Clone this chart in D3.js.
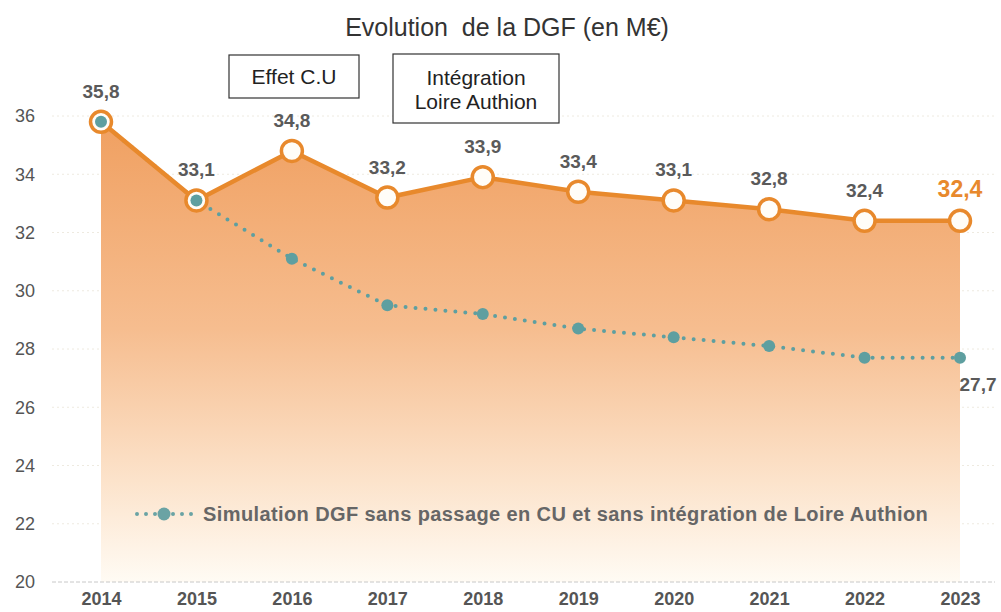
<!DOCTYPE html>
<html>
<head>
<meta charset="utf-8">
<script src="https://cdn.jsdelivr.net/npm/d3@7"></script>
<style>
  body { margin: 0; background: #fff; }
  svg { display: block; font-family: "Liberation Sans", Arial, sans-serif; }
</style>
</head>
<body>
<svg id="chart" width="1001" height="612"></svg>
<script>
// chart values
const years = [2014, 2015, 2016, 2017, 2018, 2019, 2020, 2021, 2022, 2023];
const dgf = [35.8, 33.1, 34.8, 33.2, 33.9, 33.4, 33.1, 32.8, 32.4, 32.4];
const simulation = [35.8, 33.1, 31.1, 29.5, 29.2, 28.7, 28.4, 28.1, 27.7, 27.7];
const yTicks = [20, 22, 24, 26, 28, 30, 32, 34, 36];
const legendLabel = "Simulation DGF sans passage en CU et sans intégration de Loire Authion";

const svg = d3.select("#chart");
const fmt = v => String(v).replace(".", ",");

const x = d3.scalePoint().domain(years).range([101, 960]);
const y = d3.scaleLinear().domain([20, 36]).range([582, 116]);

// gradient for area
const defs = svg.append("defs");
const grad = defs.append("linearGradient")
    .attr("id", "areaGrad")
    .attr("x1", 0).attr("y1", 0).attr("x2", 0).attr("y2", 1);
grad.append("stop").attr("offset", "0%").attr("stop-color", "#f0a061");
grad.append("stop").attr("offset", "45%").attr("stop-color", "#f6bd8f");
grad.append("stop").attr("offset", "78%").attr("stop-color", "#fce3cb");
grad.append("stop").attr("offset", "100%").attr("stop-color", "#fffbf4");

// title
svg.append("text")
    .attr("x", 507).attr("y", 36)
    .attr("text-anchor", "middle")
    .attr("font-size", 25)
    .attr("fill", "#333")
    .attr("xml:space", "preserve")
    .text("Evolution  de la DGF (en M€)");

// faint grid
svg.append("g")
    .selectAll("line")
    .data(yTicks.filter(d => d > 20))
    .join("line")
    .attr("x1", 52).attr("x2", 995)
    .attr("y1", d => y(d)).attr("y2", d => y(d))
    .attr("stroke", "#eeeae0")
    .attr("stroke-dasharray", "2,3");

// area
const area = d3.area()
    .x((d, i) => x(years[i]))
    .y0(y(20))
    .y1(d => y(d));
svg.append("path")
    .datum(dgf)
    .attr("d", area)
    .attr("fill", "url(#areaGrad)");

// baseline
svg.append("line")
    .attr("x1", 52).attr("x2", 995)
    .attr("y1", y(20)).attr("y2", y(20))
    .attr("stroke", "#c8c8c8")
    .attr("stroke-dasharray", "4,2");

// y axis labels
const yAxis = d3.axisLeft(y).tickValues(yTicks).tickSize(0).tickPadding(0);
svg.append("g")
    .attr("transform", "translate(35,0)")
    .call(yAxis)
    .call(g => g.select(".domain").remove())
    .selectAll("text")
    .attr("font-size", 18)
    .attr("fill", "#555")
    .attr("font-family", "Liberation Sans, Arial, sans-serif");

// x axis labels
const xAxis = d3.axisBottom(x).tickSize(0).tickPadding(0);
svg.append("g")
    .attr("transform", "translate(0,592)")
    .call(xAxis)
    .call(g => g.select(".domain").remove())
    .selectAll("text")
    .attr("font-size", 18)
    .attr("font-weight", "bold")
    .attr("fill", "#555")
    .attr("font-family", "Liberation Sans, Arial, sans-serif");

// simulation dotted line
const line = d3.line().x((d, i) => x(years[i])).y(d => y(d));
svg.append("path")
    .datum(simulation)
    .attr("d", line)
    .attr("fill", "none")
    .attr("stroke", "#5e9fa0")
    .attr("stroke-width", 4)
    .attr("stroke-linecap", "round")
    .attr("stroke-dasharray", "0,10");

// main line
svg.append("path")
    .datum(dgf)
    .attr("d", line)
    .attr("fill", "none")
    .attr("stroke", "#e8892c")
    .attr("stroke-width", 4.5);

svg.append("g")
    .selectAll("circle")
    .data(dgf)
    .join("circle")
    .attr("cx", (d, i) => x(years[i]))
    .attr("cy", d => y(d))
    .attr("r", 10.5)
    .attr("fill", "#fffdf8")
    .attr("stroke", "#e8892c")
    .attr("stroke-width", 3.5);

// simulation markers
svg.append("g")
    .selectAll("circle")
    .data(simulation)
    .join("circle")
    .attr("cx", (d, i) => x(years[i]))
    .attr("cy", d => y(d))
    .attr("r", 6)
    .attr("fill", "#5e9fa0");

// value labels
svg.append("g")
    .selectAll("text")
    .data(dgf)
    .join("text")
    .attr("x", (d, i) => x(years[i]))
    .attr("y", d => y(d) - 24)
    .attr("text-anchor", "middle")
    .attr("font-size", (d, i) => i === dgf.length - 1 ? 23 : 19)
    .attr("font-weight", "bold")
    .attr("fill", (d, i) => i === dgf.length - 1 ? "#e8892c" : "#5a5a5a")
    .text(fmt);

// last simulation label
const last = simulation.length - 1;
svg.append("text")
    .attr("x", x(years[last]) + 18)
    .attr("y", y(simulation[last]) + 33)
    .attr("text-anchor", "middle")
    .attr("font-size", 19)
    .attr("font-weight", "bold")
    .attr("fill", "#5a5a5a")
    .text(fmt(simulation[last]));

// annotation boxes
const boxes = [
    { x: 229, y: 55, w: 130, h: 43, lines: ["Effet C.U"] },
    { x: 393, y: 54, w: 166, h: 69, lines: ["Intégration", "Loire Authion"] }
];
boxes.forEach(b => {
    const g = svg.append("g");
    g.append("rect")
        .attr("x", b.x).attr("y", b.y).attr("width", b.w).attr("height", b.h)
        .attr("fill", "#fff").attr("stroke", "#333").attr("stroke-width", 1.2);
    b.lines.forEach((t, k) => {
        g.append("text")
            .attr("x", b.x + b.w / 2)
            .attr("y", b.y + (b.lines.length === 1 ? 29 : 31 + k * 24))
            .attr("text-anchor", "middle")
            .attr("font-size", 21)
            .attr("fill", "#222")
            .text(t);
    });
});

// legend
const lg = svg.append("g").attr("transform", "translate(0,514)");
lg.append("line")
    .attr("x1", 137).attr("x2", 196)
    .attr("stroke", "#6aa3a4").attr("stroke-width", 4)
    .attr("stroke-linecap", "round").attr("stroke-dasharray", "0,9");
lg.append("circle")
    .attr("cx", 164).attr("r", 6.5)
    .attr("fill", "#6aa3a4");
lg.append("text")
    .attr("x", 203).attr("y", 7)
    .attr("font-size", 20)
    .attr("font-weight", "bold")
    .attr("letter-spacing", 0.4)
    .attr("fill", "#666")
    .text(legendLabel);
</script>
</body>
</html>
